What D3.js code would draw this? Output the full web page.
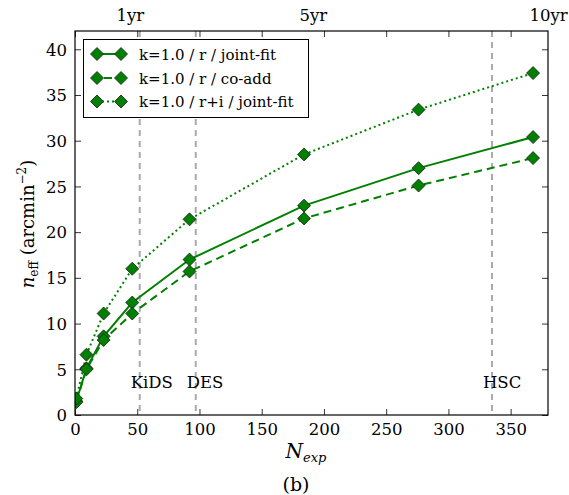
<!DOCTYPE html>
<html><head><meta charset="utf-8">
<script src="https://cdn.jsdelivr.net/npm/d3@7"></script>
<style>
body{margin:0;background:#fff}
text{font-family:"DejaVu Serif",serif;fill:#000}
</style>
</head><body><svg id="c" width="569" height="495"></svg>
<script>
// ---- data ----
const nExp = [1, 9.2, 23, 46, 92, 184, 276, 368];
const jointFitR  = [1.5, 5.1, 8.6, 12.3, 17.0, 22.9, 27.0, 30.4];
const coaddR     = [1.4, 5.0, 8.2, 11.1, 15.7, 21.5, 25.1, 28.1];
const jointFitRI = [1.8, 6.6, 11.1, 16.0, 21.4, 28.5, 33.4, 37.4];
const seriesNames = ["k=1.0 / r / joint-fit", "k=1.0 / r / co-add", "k=1.0 / r+i / joint-fit"];
const surveyNames = ["KiDS", "DES", "HSC"];
const surveyNExp  = [52, 97, 335];
const xTicks = [0, 50, 100, 150, 200, 250, 300, 350];
const yTicks = [0, 5, 10, 15, 20, 25, 30, 35, 40];
const topTickValues = [44, 191, 380];
const topTickLabels = ["1yr", "5yr", "10yr"];

// ---- layout ----
const W = 569, H = 495;
const L = 75, R = 548, T = 31, B = 415;
const svg = d3.select("#c");
const x = d3.scaleLinear().domain([0, 380]).range([L, R]);
const y = d3.scaleLinear().domain([0, 42]).range([B, T]);
const green = "#008000";
const styles = [
  {dash: null},
  {dash: "8,5"},
  {dash: "2,3"}
];
const seriesVals = [jointFitR, coaddR, jointFitRI];

svg.append("defs").append("clipPath").attr("id","clip")
  .append("rect").attr("x",L).attr("y",T).attr("width",R-L).attr("height",B-T);

// survey lines
const g = svg.append("g");
surveyNExp.forEach((v,i)=>{
  g.append("line").attr("x1",x(v)).attr("x2",x(v)).attr("y1",T).attr("y2",B)
   .attr("stroke","#aaaaaa").attr("stroke-width",2).attr("stroke-dasharray","6,5");
  g.append("text").attr("x",x(v)-9).attr("y",y(2.9)).attr("font-size",16.5)
   .text(surveyNames[i]);
});

// series
const plot = svg.append("g").attr("clip-path","url(#clip)");
function diamondPath(s){ return `M0,${-s}L${s},0L0,${s}L${-s},0Z`; }
seriesVals.forEach((vals,si)=>{
  const pts = nExp.map((n,i)=>[n, vals[i]]);
  const line = d3.line().x(d=>x(d[0])).y(d=>y(d[1]));
  const p = plot.append("path").datum(pts).attr("d",line).attr("fill","none")
    .attr("stroke",green).attr("stroke-width",2);
  if(styles[si].dash) p.attr("stroke-dasharray",styles[si].dash);
});
seriesVals.forEach((vals,si)=>{
  plot.selectAll(null).data(nExp.map((n,i)=>[n, vals[i]])).enter().append("path")
    .attr("d",diamondPath(6.5))
    .attr("transform",d=>`translate(${x(d[0])},${y(d[1])})`)
    .attr("fill",green).attr("stroke","#1a1a1a").attr("stroke-width",0.8);
});

// axes
const fs = 16.5;
const ax = svg.append("g").attr("transform",`translate(0,${B})`)
  .call(d3.axisBottom(x).tickValues(xTicks).tickSizeInner(-6).tickSizeOuter(0).tickPadding(8).tickFormat(d3.format("d")));
const ay = svg.append("g").attr("transform",`translate(${L},0)`)
  .call(d3.axisLeft(y).tickValues(yTicks).tickSizeInner(-6).tickSizeOuter(0).tickPadding(8).tickFormat(d3.format("d")));
const axt = svg.append("g").attr("transform",`translate(0,${T})`)
  .call(d3.axisTop(x).tickValues(xTicks).tickSizeInner(-6).tickSizeOuter(0).tickFormat(""));
const ayr = svg.append("g").attr("transform",`translate(${R},0)`)
  .call(d3.axisRight(y).tickValues(yTicks).tickSizeInner(-6).tickSizeOuter(0).tickFormat(""));
const topLab = svg.append("g").attr("transform",`translate(0,${T})`)
  .call(d3.axisTop(x).tickValues(topTickValues).tickSize(0).tickPadding(10)
    .tickFormat((d,i)=>topTickLabels[i]));
[ax,ay,axt,ayr,topLab].forEach(a=>{
  a.select(".domain").remove();
  a.selectAll("text").attr("font-size",fs).attr("font-family","DejaVu Serif").attr("fill","#000");
  a.selectAll("line").attr("stroke","#000").attr("stroke-width",0.8);
});
ay.selectAll("text").attr("dy","0.35em");
topLab.selectAll("line").remove();
// frame
svg.append("rect").attr("x",L).attr("y",T).attr("width",R-L).attr("height",B-T)
  .attr("fill","none").attr("stroke","#000").attr("stroke-width",1.2);

// legend
const lg = svg.append("g");
lg.append("rect").attr("x",83.5).attr("y",39.5).attr("width",225).attr("height",78)
  .attr("fill","#fff").attr("stroke","#000").attr("stroke-width",1);
const rowY = [54, 78, 101.5];
seriesNames.forEach((nm,i)=>{
  const ln = lg.append("line").attr("x1",97).attr("x2",121).attr("y1",rowY[i]).attr("y2",rowY[i])
    .attr("stroke",green).attr("stroke-width",2);
  if(styles[i].dash) ln.attr("stroke-dasharray", i===1 ? "8,5" : "2,3").attr("stroke-dashoffset", i===1 ? -7 : 0);
  [97,121].forEach(xx=>lg.append("path").attr("d",diamondPath(6.5))
    .attr("transform",`translate(${xx},${rowY[i]})`).attr("fill",green)
    .attr("stroke","#1a1a1a").attr("stroke-width",0.8));
  lg.append("text").attr("x",139).attr("y",rowY[i]+5.5).attr("font-size",15).text(nm);
});

// axis labels
const yl = svg.append("text").attr("transform",`translate(34,224) rotate(-90)`)
  .attr("text-anchor","middle").attr("font-size",18);
yl.append("tspan").attr("font-style","italic").text("n");
yl.append("tspan").attr("font-size",12).attr("dy",4).text("eff");
yl.append("tspan").attr("dy",-4).text(" (arcmin");
yl.append("tspan").attr("font-size",12).attr("dy",-8).text("\u22122");
yl.append("tspan").attr("dy",8).text(")");

const xl = svg.append("text").attr("x",306).attr("y",458).attr("text-anchor","middle").attr("font-size",20);
xl.append("tspan").attr("font-style","italic").text("N");
xl.append("tspan").attr("font-style","italic").attr("font-size",13).attr("dy",4).text("exp");

svg.append("text").attr("x",296).attr("y",491).attr("text-anchor","middle").attr("font-size",19).text("(b)");
</script>
</body></html>
